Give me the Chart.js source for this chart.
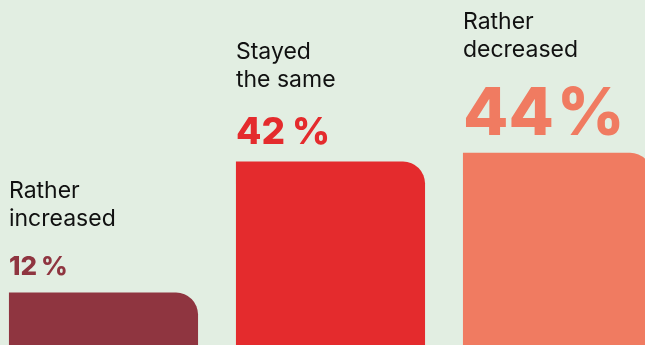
<!DOCTYPE html>
<html>
<head>
<meta charset="utf-8">
<script src="https://cdn.jsdelivr.net/npm/chart.js@4"></script>
<style>
  html, body { margin: 0; padding: 0; background: #e2eee2; overflow: hidden; }
  #wrap { position: absolute; left: -10px; top: 0; width: 681px; height: 345px; }
</style>
</head>
<body>
<div id="wrap"><canvas id="myChart"></canvas></div>
<script>
// data
const categories = [['Rather', 'increased'], ['Stayed', 'the same'], ['Rather', 'decreased']];
const shares = [12, 42, 44];

// styles
const barColors = ['#8f3540', '#e42b2d', '#f07b61'];
const valueFontSizes = [26, 37, 66];
const percentGaps = [4, 7, 3];

// draws the category name and the percent above each bar
const labelPlugin = {
    id: 'barLabels',
    afterDatasetsDraw(chart) {
        const ctx = chart.ctx;
        const bars = chart.getDatasetMeta(0).data;
        ctx.save();
        ctx.textAlign = 'left';
        ctx.textBaseline = 'alphabetic';
        bars.forEach((bar, i) => {
            const left = bar.x - bar.width / 2;
            const size = valueFontSizes[i];
            const valueBase = bar.y - 18;
            ctx.fillStyle = barColors[i];
            ctx.font = `800 ${size}px Inter`;
            const num = String(shares[i]);
            ctx.fillText(num, left, valueBase);
            const numWidth = ctx.measureText(num).width;
            ctx.fillText('%', left + numWidth + percentGaps[i], valueBase);

            // second line sits above the percent, first line above that
            const capHeight = size * 0.727;
            const line2 = valueBase - capHeight - 30;
            ctx.fillStyle = '#111111';
            ctx.font = '400 23px Inter';
            ctx.fillText(categories[i][1], left, line2);
            ctx.fillText(categories[i][0], left, line2 - 28);
        });
        ctx.restore();
    }
};

const ctx = document.getElementById('myChart');

const chart = new Chart(ctx, {
    type: 'bar',
    data: {
        labels: categories.map(c => c.join(' ')),
        datasets: [{
            data: shares,
            backgroundColor: barColors,
            borderWidth: 0,
            borderRadius: { topLeft: 0, topRight: 22, bottomLeft: 0, bottomRight: 0 },
            borderSkipped: false,
            categoryPercentage: 1,
            barPercentage: 0.833
        }]
    },
    options: {
        responsive: true,
        maintainAspectRatio: false,
        animation: false,
        layout: { padding: 0 },
        scales: {
            x: { display: false },
            y: { display: false, min: 0, max: 79 }
        },
        plugins: {
            legend: { display: false },
            tooltip: { enabled: false }
        }
    },
    plugins: [labelPlugin]
});
</script>
</body>
</html>
